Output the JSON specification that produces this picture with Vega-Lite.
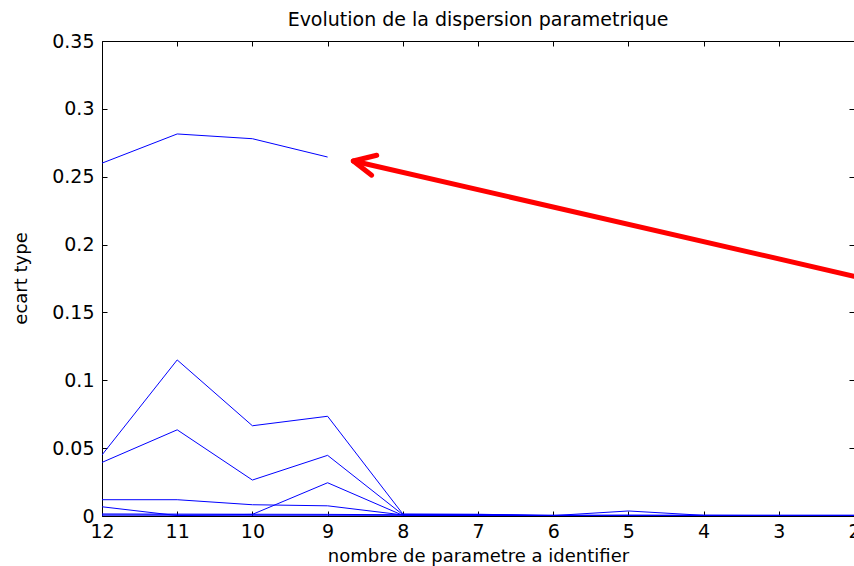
{
  "$schema": "https://vega.github.io/schema/vega-lite/v6.json",
  "width": 752,
  "height": 475,
  "autosize": "none",
  "padding": {"left": 102, "top": 41, "right": 0, "bottom": 50},
  "background": "white",
  "config": {
    "view": {"stroke": null},
    "font": "DejaVu Sans",
    "axis": {
      "grid": false,
      "domainColor": "black",
      "tickColor": "black",
      "labelColor": "black",
      "titleColor": "black",
      "labelFont": "DejaVu Sans",
      "titleFont": "DejaVu Sans",
      "labelFontSize": 19,
      "titleFontSize": 18,
      "titleFontWeight": "normal",
      "tickSize": -5,
      "labelFlush": false
    }
  },
  "title": {
    "text": "Evolution de la dispersion parametrique",
    "font": "DejaVu Sans",
    "fontSize": 19,
    "fontWeight": "normal",
    "color": "black",
    "anchor": "middle",
    "baseline": "alphabetic",
    "offset": -13
  },
  "datasets": {
    "series": [
      {"s": "A", "x": 12, "y": 0.260},
      {"s": "A", "x": 11, "y": 0.2815},
      {"s": "A", "x": 10, "y": 0.278},
      {"s": "A", "x": 9, "y": 0.2645},
      {"s": "B", "x": 12, "y": 0.045},
      {"s": "B", "x": 11, "y": 0.115},
      {"s": "B", "x": 10, "y": 0.0665},
      {"s": "B", "x": 9, "y": 0.0735},
      {"s": "B", "x": 8, "y": 0.0015},
      {"s": "B", "x": 7, "y": 0.0013},
      {"s": "B", "x": 6, "y": 0.0003},
      {"s": "B", "x": 5, "y": 0.0037},
      {"s": "B", "x": 4, "y": 0.0005},
      {"s": "B", "x": 3, "y": 0.0003},
      {"s": "B", "x": 2, "y": 0.0002},
      {"s": "C", "x": 12, "y": 0.0395},
      {"s": "C", "x": 11, "y": 0.0635},
      {"s": "C", "x": 10, "y": 0.0265},
      {"s": "C", "x": 9, "y": 0.0447},
      {"s": "C", "x": 8, "y": 0.001},
      {"s": "C", "x": 7, "y": 0.001},
      {"s": "C", "x": 6, "y": 0.0002},
      {"s": "C", "x": 5, "y": 0.0005},
      {"s": "C", "x": 4, "y": 0.0002},
      {"s": "C", "x": 3, "y": 0.0002},
      {"s": "C", "x": 2, "y": 0.0001},
      {"s": "D", "x": 12, "y": 0.012},
      {"s": "D", "x": 11, "y": 0.012},
      {"s": "D", "x": 10, "y": 0.0083},
      {"s": "D", "x": 9, "y": 0.0075},
      {"s": "D", "x": 8, "y": 0.0008},
      {"s": "D", "x": 7, "y": 0.0009},
      {"s": "D", "x": 6, "y": 0.0001},
      {"s": "D", "x": 5, "y": 0.0002},
      {"s": "D", "x": 4, "y": 0.0001},
      {"s": "D", "x": 3, "y": 0.0001},
      {"s": "D", "x": 2, "y": 0.0001},
      {"s": "E", "x": 12, "y": 0.0068},
      {"s": "E", "x": 11, "y": 0.0003},
      {"s": "E", "x": 10, "y": 0.0012},
      {"s": "E", "x": 9, "y": 0.0245},
      {"s": "E", "x": 8, "y": 0.0005},
      {"s": "E", "x": 7, "y": 0.0004},
      {"s": "E", "x": 6, "y": 0.0001},
      {"s": "E", "x": 5, "y": 0.0001},
      {"s": "E", "x": 4, "y": 0.0001},
      {"s": "E", "x": 3, "y": 0.0001},
      {"s": "E", "x": 2, "y": 0.0},
      {"s": "F", "x": 12, "y": 0.0},
      {"s": "F", "x": 11, "y": 0.0},
      {"s": "F", "x": 10, "y": 0.0},
      {"s": "F", "x": 9, "y": 0.0},
      {"s": "F", "x": 8, "y": 0.0},
      {"s": "F", "x": 7, "y": 0.0},
      {"s": "F", "x": 6, "y": 0.0},
      {"s": "F", "x": 5, "y": 0.0},
      {"s": "F", "x": 4, "y": 0.0},
      {"s": "F", "x": 3, "y": 0.0},
      {"s": "F", "x": 2, "y": 0.0},
      {"s": "G", "x": 12, "y": 0.0008},
      {"s": "G", "x": 11, "y": 0.0008},
      {"s": "G", "x": 10, "y": 0.0007},
      {"s": "G", "x": 9, "y": 0.0007},
      {"s": "G", "x": 8, "y": 0.0006},
      {"s": "G", "x": 7, "y": 0.0005},
      {"s": "G", "x": 6, "y": 0.0004},
      {"s": "G", "x": 5, "y": 0.0004},
      {"s": "G", "x": 4, "y": 0.0004},
      {"s": "G", "x": 3, "y": 0.0004},
      {"s": "G", "x": 2, "y": 0.0004},
      {"s": "H", "x": 12, "y": 0.0015},
      {"s": "H", "x": 11, "y": 0.0014},
      {"s": "H", "x": 10, "y": 0.0013},
      {"s": "H", "x": 9, "y": 0.0012},
      {"s": "H", "x": 8, "y": 0.0009},
      {"s": "H", "x": 7, "y": 0.0007},
      {"s": "H", "x": 6, "y": 0.0006},
      {"s": "H", "x": 5, "y": 0.0006},
      {"s": "H", "x": 4, "y": 0.0006},
      {"s": "H", "x": 3, "y": 0.0006},
      {"s": "H", "x": 2, "y": 0.0006}
    ],
    "arrow": [
      {"seg": "shaft", "o": 1, "x": 2, "y": 0.1767},
      {"seg": "shaft", "o": 2, "x": 8.658, "y": 0.2616},
      {"seg": "head", "o": 1, "x": 8.347, "y": 0.2658},
      {"seg": "head", "o": 2, "x": 8.658, "y": 0.2616},
      {"seg": "head", "o": 3, "x": 8.414, "y": 0.2511}
    ]
  },
  "resolve": {"axis": {"x": "independent", "y": "independent"}},
  "layer": [
    {
      "data": {"name": "series"},
      "mark": {"type": "line", "color": "#0000ff", "strokeWidth": 1, "clip": true},
      "encoding": {
        "x": {
          "field": "x",
          "type": "quantitative",
          "scale": {"domain": [2, 12], "reverse": true, "nice": false, "zero": false},
          "axis": {
            "orient": "bottom",
            "values": [12, 11, 10, 9, 8, 7, 6, 5, 4, 3, 2],
            "format": "d",
            "labelPadding": 11,
            "title": "nombre de parametre a identifier",
            "titleY": 45,
            "titleBaseline": "alphabetic"
          }
        },
        "y": {
          "field": "y",
          "type": "quantitative",
          "scale": {"domain": [0, 0.35], "nice": false},
          "axis": {
            "orient": "left",
            "values": [0, 0.05, 0.1, 0.15, 0.2, 0.25, 0.3, 0.35],
            "format": "~g",
            "labelPadding": 13,
            "title": "ecart type",
            "titleX": -81,
            "titleY": 237,
            "titleBaseline": "middle"
          }
        },
        "detail": {"field": "s"}
      }
    },
    {
      "data": {"name": "arrow"},
      "mark": {"type": "line", "color": "#ff0000", "strokeWidth": 5, "strokeCap": "round", "strokeJoin": "round", "clip": false},
      "encoding": {
        "x": {
          "field": "x",
          "type": "quantitative",
          "axis": {
            "orient": "top",
            "values": [12, 11, 10, 9, 8, 7, 6, 5, 4, 3, 2],
            "labels": false,
            "title": null
          }
        },
        "y": {
          "field": "y",
          "type": "quantitative",
          "axis": {
            "orient": "right",
            "values": [0, 0.05, 0.1, 0.15, 0.2, 0.25, 0.3, 0.35],
            "labels": false,
            "title": null
          }
        },
        "detail": {"field": "seg"},
        "order": {"field": "o"}
      }
    }
  ]
}
